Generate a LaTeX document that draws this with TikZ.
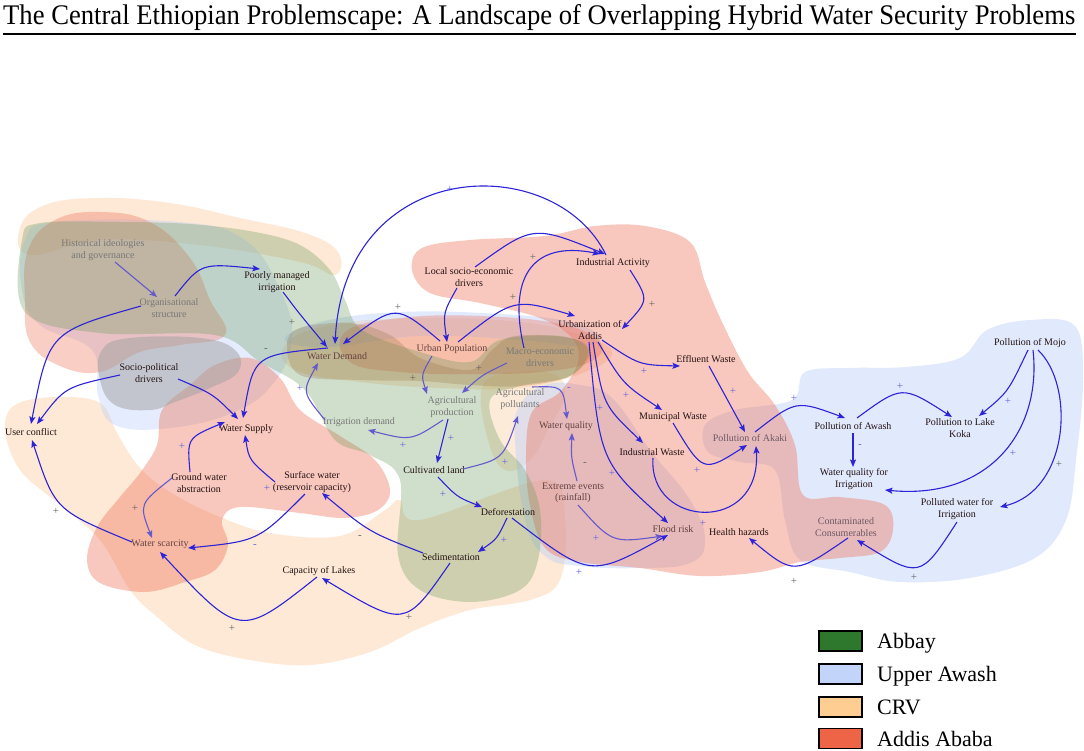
\documentclass[tikz,border=0pt]{standalone}
\usepackage{fontspec}
\setmainfont{Liberation Serif}
\usetikzlibrary{arrows.meta,calc}
\definecolor{crv}{RGB}{252,200,150}
\definecolor{blu}{RGB}{190,208,250}
\definecolor{rdd}{RGB}{238,115,90}
\definecolor{grn}{RGB}{100,150,85}
\definecolor{brn}{RGB}{150,115,70}
\definecolor{gry}{RGB}{160,160,160}
\definecolor{tdark}{RGB}{35,18,18}
\definecolor{tgray}{RGB}{120,120,120}
\definecolor{tbrown}{RGB}{100,65,65}
\definecolor{tmauve}{RGB}{110,90,100}
\definecolor{ablue}{RGB}{45,35,215}
\definecolor{alav}{RGB}{100,90,205}
\definecolor{sgray}{RGB}{100,100,100}
\definecolor{sblue}{RGB}{100,100,225}
\definecolor{legabbay}{RGB}{45,120,45}
\definecolor{legawash}{RGB}{195,212,250}
\definecolor{legcrv}{RGB}{253,205,145}
\definecolor{legaddis}{RGB}{238,100,70}
\tikzset{
 lbl/.style={font=\fontsize{10}{11.5}\selectfont, align=center, inner sep=1pt, text=tdark},
 tg/.style={text=tgray},
 tb/.style={text=tbrown},
 tm/.style={text=tmauve},
 arr/.style={draw=ablue, line width=1.1pt, -{Stealth[length=7.5pt,width=6pt,inset=1.5pt]}},
 arrl/.style={arr, draw=alav},
 sg/.style={font=\fontsize{11}{11}\selectfont, inner sep=0pt, text=sgray},
 sb/.style={sg, text=sblue},
 legbox/.style={draw=black, line width=1.3pt, minimum width=43pt, minimum height=20pt, inner sep=0pt},
 legtxt/.style={font=\fontsize{22}{22}\selectfont, anchor=base west, inner sep=0pt, text=black},
}
\begin{document}
\begin{tikzpicture}[x=1pt,y=-1pt]
\useasboundingbox (0,0) rectangle (1084,750);
\fill[white] (0,0) rectangle (1084,750);

% ---------- CRV ----------
\fill[crv,fill opacity=.4] plot[smooth cycle,tension=.7] coordinates {(20,228) (45,205) (100,198) (170,203) (240,218) (305,233) (338,252) (335,275) (300,262) (200,245) (100,240) (30,255)};
\fill[crv,fill opacity=.4] plot[smooth cycle,tension=.6] coordinates {(5,430) (15,405) (55,397) (100,403) (118,435) (140,468) (170,492) (215,515) (270,533) (340,536) (385,510) (400,500) (420,520) (545,480) (565,520) (560,580) (530,600) (470,610) (420,628) (370,652) (310,665) (250,660) (195,645) (155,615) (130,590) (100,540) (60,505) (20,470)};
\fill[crv,fill opacity=.4] plot[smooth cycle,tension=.7] coordinates {(285,345) (330,325) (420,318) (520,322) (580,335) (612,352) (585,372) (520,388) (440,388) (360,382) (295,370)};
\fill[crv,fill opacity=.35] plot[smooth cycle,tension=.7] coordinates {(483,385) (520,372) (555,375) (565,395) (548,430) (530,460) (505,470) (488,440)};

% ---------- Upper Awash ----------
\fill[blu,fill opacity=.45] plot[smooth cycle,tension=.6] coordinates {(705,425) (735,410) (792,400) (805,372) (850,368) (905,367) (960,358) (987,330) (1030,320) (1075,326) (1083,380) (1076,460) (1066,520) (1035,558) (970,578) (900,582) (850,572) (800,560) (785,520) (775,470) (740,462) (708,452)};
\fill[blu,fill opacity=.45] plot[smooth cycle,tension=.7] coordinates {(515,440) (520,405) (545,385) (580,385) (612,398) (650,450) (690,500) (705,540) (690,563) (640,568) (580,566) (545,556) (525,520)};
\fill[blu,fill opacity=.45] plot[smooth cycle,tension=.7] coordinates {(285,340) (320,322) (400,312) (500,314) (570,322) (600,338) (580,346) (520,340) (420,336) (330,347)};
\fill[blu,fill opacity=.4] plot[smooth cycle,tension=.7] coordinates {(25,240) (55,222) (180,222) (245,240) (280,290) (292,340) (272,385) (232,413) (170,428) (115,425) (98,395) (92,350) (40,325) (22,290)};

% ---------- Addis Ababa ----------
\fill[rdd,fill opacity=.35] plot[smooth cycle,tension=.7] coordinates {(25,300) (28,250) (55,220) (100,212) (150,222) (190,258) (210,300) (225,335) (180,345) (140,352) (100,372) (60,366) (30,342)};
\fill[rdd,fill opacity=.4] plot[smooth cycle,tension=.6] coordinates {(157,445) (162,410) (190,385) (215,365) (250,358) (280,378) (300,410) (340,436) (375,460) (390,490) (378,510) (345,518) (300,513) (240,507) (222,520) (228,545) (215,570) (185,582) (145,592) (100,583) (87,560) (97,527) (120,497) (140,473)};
\fill[rdd,fill opacity=.4] plot[smooth cycle,tension=.6] coordinates {(412,270) (422,248) (470,240) (545,236) (595,226) (645,226) (690,242) (705,282) (722,322) (748,372) (775,405) (795,445) (803,495) (840,497) (885,505) (893,530) (880,552) (840,558) (800,562) (760,572) (700,576) (640,568) (580,562) (545,548) (530,505) (526,455) (532,412) (560,392) (578,362) (572,338) (540,318) (480,303) (430,293)};
\fill[rdd,fill opacity=.35] plot[smooth cycle,tension=.7] coordinates {(345,332) (400,318) (480,316) (560,324) (600,342) (590,362) (540,372) (470,374) (400,372) (350,362)};

% ---------- Abbay ----------
\fill[grn,fill opacity=.3] plot[smooth cycle,tension=.6] coordinates {(22,240) (40,223) (120,222) (190,224) (255,232) (300,245) (330,270) (345,300) (362,330) (420,352) (470,362) (500,340) (560,336) (588,350) (570,376) (520,386) (490,400) (500,440) (525,470) (540,510) (538,560) (520,590) (470,602) (420,590) (398,555) (400,480) (370,455) (335,440) (305,390) (260,362) (215,335) (100,333) (25,312)};

% ---------- overlap accents ----------
\fill[brn,fill opacity=.28] plot[smooth cycle,tension=.6] coordinates {(287,345) (300,328) (350,323) (390,335) (420,358) (470,370) (492,350) (515,336) (570,338) (590,352) (570,376) (520,386) (470,385) (420,381) (360,380) (300,375)};
\fill[gry,fill opacity=.5] plot[smooth cycle,tension=.7] coordinates {(102,350) (130,338) (200,338) (235,350) (238,372) (210,388) (175,402) (150,410) (115,405) (100,380)};

% ---------- title ----------
\node[anchor=base west, inner sep=0pt] (title) at (3,24) {\resizebox{1072pt}{20pt}{The Central Ethiopian Problemscape: A Landscape of Overlapping Hybrid Water Security Problems}};
\draw[line width=1.5pt] (title.south west |- 0,34) coordinate (ul1) -- (title.south east |- 0,34) coordinate (ul2);

% ---------- nodes ----------
\node[lbl,tg] (hist) at (103,250) {Historical ideologies\\and governance};
\node[lbl,tg] (org) at (169,308) {Organisational\\structure};
\node[lbl] (poor) at (277,282) {Poorly managed\\irrigation};
\node[lbl,tb] (wd) at (337,356) {Water Demand};
\node[lbl] (socio) at (149,373) {Socio-political\\drivers};
\node[lbl] (uc) at (31,432) {User conflict};
\node[lbl] (ws) at (246,429) {Water Supply};
\node[lbl,tg] (ird) at (359,422) {Irrigation demand};
\node[lbl] (gwa) at (199,483) {Ground water\\abstraction};
\node[lbl] (sw) at (312,482) {Surface water\\(reservoir capacity)};
\node[lbl,tb] (wsc) at (160,544) {Water scarcity};
\node[lbl] (col) at (319,571) {Capacity of Lakes};
\node[lbl] (local) at (469,277) {Local socio-economic\\drivers};
\node[lbl] (ind) at (613,263) {Industrial Activity};
\node[lbl] (urb) at (590,330) {Urbanization of\\Addis};
\node[lbl,tb] (up) at (452,349) {Urban Population};
\node[lbl,tg] (macro) at (540,357) {Macro-economic\\drivers};
\node[lbl,tg] (agp) at (452,407) {Agricultural\\production};
\node[lbl,tg] (agpol) at (520,399) {Agricultural\\pollutants};
\node[lbl,tb] (wq) at (566,426) {Water quality};
\node[lbl] (cl) at (434,470) {Cultivated land};
\node[lbl,tb] (ext) at (573,493) {Extreme events\\(rainfall)};
\node[lbl] (def) at (508,512) {Deforestation};
\node[lbl] (sed) at (451,557) {Sedimentation};
\node[lbl,tb] (fr) at (673,529) {Flood risk};
\node[lbl] (eff) at (706,359) {Effluent Waste};
\node[lbl] (mun) at (673,417) {Municipal Waste};
\node[lbl] (iw) at (652,452) {Industrial Waste};
\node[lbl,tm] (akaki) at (750,438) {Pollution of Akaki};
\node[lbl] (hh) at (739,532) {Health hazards};
\node[lbl] (awash) at (853,426) {Pollution of Awash};
\node[lbl] (koka) at (960,428) {Pollution to Lake\\Koka};
\node[lbl] (wqi) at (854,479) {Water quality for\\Irrigation};
\node[lbl] (mojo) at (1030,343) {Pollution of Mojo};
\node[lbl] (pwi) at (957,509) {Polluted water for\\Irrigation};
\node[lbl,tm] (cc) at (846,527) {Contaminated\\Consumerables};

% ---------- connectors ----------
\draw[arrl] ($(hist)+(12,12)$) -- ($(org)+(-12,-11)$);
\draw[arr] ($(org)+(6,-12)$) .. controls (201,263) .. ($(poor)+(-17,-13)$);
\draw[arr] ($(org)+(-28,-2)$) .. controls (49,332) .. ($(uc)+(0,-8)$);
\draw[arr] ($(poor)+(6,10)$) .. controls (298,312) .. ($(wd)+(-10,-9)$);
\draw[arr] ($(socio)+(-29,2)$) .. controls (65,387) .. ($(uc)+(6,-8)$);
\draw[arr] ($(socio)+(29,6)$) .. controls (213,394) .. ($(ws)+(-8,-10)$);
\draw[arr] ($(wd)+(-9,-8)$) .. controls (254,355) .. ($(ws)+(-3,-11)$);
\draw[arrl] ($(ird)+(-34,-2)$) .. controls (302,392) .. ($(wd)+(-19,7)$);
\draw[arr] ($(ind)+(-7,-8)$) .. controls (555,150) and (345,155) .. ($(wd)+(-2,-12)$);
\draw[arr] ($(up)+(-12,-8)$) .. controls (396,304) .. ($(wd)+(6,-12)$);
\draw[arr] ($(local)+(-12,11)$) .. controls (443,313) .. ($(up)+(-5,-7)$);
\draw[arr] ($(local)+(6,-10)$) .. controls (533,225) .. ($(ind)+(-8,-9)$);
\draw[arr] ($(macro)+(-16,-9)$) .. controls (508,280) and (530,240) .. ($(ind)+(-13,-9)$);
\draw[arr] ($(up)+(6,-7)$) .. controls (514,298) .. ($(urb)+(-15,-14)$);
\draw[arr] ($(ind)+(17,7)$) .. controls (649,300) .. ($(urb)+(32,-1)$);
\draw[arrl] ($(macro)+(-33,6)$) .. controls (482,375) .. ($(agp)+(10,-14)$);
\draw[arrl] ($(up)+(-20,7)$) .. controls (421,375) .. ($(agp)+(-25,-13)$);
\draw[arrl] ($(agp)+(-9,13)$) .. controls (411,441) .. ($(ird)+(9,8)$);
\draw[arr] ($(agp)+(-4,12)$) -- ($(cl)+(3,-7)$);
\draw[arrl] ($(cl)+(29,-1)$) .. controls (503,459) .. ($(agpol)+(-2,17)$);
\draw[arrl] ($(agpol)+(12,-12)$) .. controls (563,386) .. ($(wq)+(1,-7)$);
\draw[arrl] ($(ext)+(4,-12)$) .. controls (571,457) .. ($(wq)+(6,7)$);
\draw[arrl] ($(ext)+(5,12)$) .. controls (612,543) .. ($(fr)+(-10,7)$);
\draw[arr] ($(cl)+(4,7)$) .. controls (457,497) .. ($(def)+(-26,-5)$);
\draw[arr] ($(def)+(-1,6)$) .. controls (497,539) .. ($(sed)+(27,-5)$);
\draw[arr] ($(def)+(4,6)$) .. controls (590,578) .. ($(fr)+(-5,6)$);
\draw[arr] ($(sed)+(-28,-4)$) .. controls (369,532) .. ($(sw)+(10,11)$);
\draw[arr] ($(sed)+(-1,6)$) .. controls (405,628) .. ($(col)+(3,7)$);
\draw[arr] ($(col)+(-2,6)$) .. controls (240,638) .. ($(wsc)+(0,8)$);
\draw[arr] ($(sw)+(-7,12)$) .. controls (258,541) .. ($(wsc)+(28,4)$);
\draw[arr] ($(sw)+(-37,0)$) .. controls (249,460) .. ($(ws)+(-1,6)$);
\draw[arr] ($(gwa)+(-9,-11)$) .. controls (187,438) .. ($(ws)+(-21,-7)$);
\draw[arrl] ($(gwa)+(-27,-5)$) .. controls (139,504) .. ($(wsc)+(-8,-6)$);
\draw[arr] ($(wsc)+(-28,-2)$) .. controls (55,510) .. ($(uc)+(1,8)$);
\draw[arr] ($(urb)+(12,10)$) .. controls (639,365) .. ($(eff)+(-26,7)$);
\draw[arr] ($(urb)+(8,12)$) .. controls (623,384) .. ($(mun)+(-11,-7)$);
\draw[arr] ($(urb)+(3,12)$) .. controls (603,405) .. ($(iw)+(-9,-9)$);
\draw[arr] ($(urb)+(-1,12)$) .. controls (600,462) .. ($(fr)+(-5,-6)$);
\draw[arr] ($(eff)+(3,7)$) -- ($(akaki)+(-5,-6)$);
\draw[arr] ($(mun)+(0,6)$) .. controls (703,473) .. ($(akaki)+(-3,7)$);
\draw[arr] ($(iw)+(1,6)$) .. controls (648,528) and (762,535) .. ($(akaki)+(6,8)$);
\draw[arr] ($(akaki)+(5,-6)$) .. controls (796,400) .. ($(awash)+(-8,-8)$);
\draw[arr] ($(awash)+(4,-8)$) .. controls (902,385) .. ($(koka)+(-8,-11)$);
\draw[arr] ($(awash)+(0,7)$) -- ($(wqi)+(-1,-12)$);
\draw[arr] ($(mojo)+(-2,7)$) .. controls (1008,392) .. ($(koka)+(19,-12)$);
\draw[arr] ($(mojo)+(3,7)$) .. controls (1042,430) and (990,500) .. ($(wqi)+(31,11)$);
\draw[arr] ($(mojo)+(8,7)$) .. controls (1075,385) and (1070,490) .. ($(pwi)+(43,-2)$);
\draw[arr] ($(pwi)+(0,13)$) .. controls (920,579) .. ($(cc)+(11,13)$);
\draw[arr] ($(cc)+(2,11)$) .. controls (794,575) .. ($(hh)+(10,6)$);

% ---------- polarity signs ----------
\node[sg] (p1) at (292,322) {+};
\node[sg] (p2) at (266,350) {-};
\node[sb] (p3) at (300,388) {+};
\node[sb] (p4) at (450,189) {+};
\node[sg] (p5) at (398,307) {+};
\node[sg] (p6) at (533,257) {+};
\node[sg] (p7) at (513,297) {+};
\node[sg] (p8) at (652,304) {+};
\node[sg] (p9) at (479,368) {+};
\node[sg] (p10) at (413,378) {+};
\node[sb] (p11) at (403,445) {+};
\node[sb] (p12) at (451,438) {+};
\node[sb] (p13) at (505,462) {+};
\node[sb] (p14) at (569,389) {-};
\node[sg] (p15) at (585,464) {-};
\node[sb] (p16) at (596,538) {+};
\node[sb] (p17) at (443,494) {+};
\node[sb] (p18) at (504,540) {+};
\node[sb] (p19) at (579,572) {+};
\node[sg] (p20) at (360,537) {-};
\node[sg] (p21) at (409,617) {+};
\node[sg] (p22) at (232,628) {+};
\node[sb] (p23) at (255,546) {-};
\node[sb] (p24) at (267,488) {+};
\node[sb] (p25) at (182,446) {+};
\node[sg] (p26) at (135,508) {+};
\node[sg] (p27) at (56,511) {+};
\node[sb] (p28) at (644,371) {+};
\node[sb] (p29) at (626,395) {+};
\node[sb] (p30) at (600,408) {+};
\node[sb] (p31) at (612,473) {+};
\node[sb] (p32) at (733,391) {+};
\node[sb] (p33) at (697,470) {+};
\node[sb] (p34) at (703,523) {+};
\node[sb] (p35) at (794,398) {+};
\node[sb] (p36) at (900,386) {+};
\node[sb] (p37) at (860,446) {-};
\node[sb] (p38) at (1008,401) {+};
\node[sb] (p39) at (1013,453) {+};
\node[sg] (p40) at (1059,464) {+};
\node[sg] (p41) at (914,577) {+};
\node[sg] (p42) at (794,581) {+};

% ---------- legend ----------
\node[legbox,fill=legabbay] (lg1) at (840.5,641) {};
\node[legbox,fill=legawash] (lg2) at (840.5,674) {};
\node[legbox,fill=legcrv] (lg3) at (840.5,707) {};
\node[legbox,fill=legaddis] (lg4) at (840.5,738.5) {};
\node[legtxt] (lt1) at (877,648) {Abbay};
\node[legtxt] (lt2) at (877,681) {Upper Awash};
\node[legtxt] (lt3) at (877,714) {CRV};
\node[legtxt] (lt4) at (877,746) {Addis Ababa};
\end{tikzpicture}
\end{document}
